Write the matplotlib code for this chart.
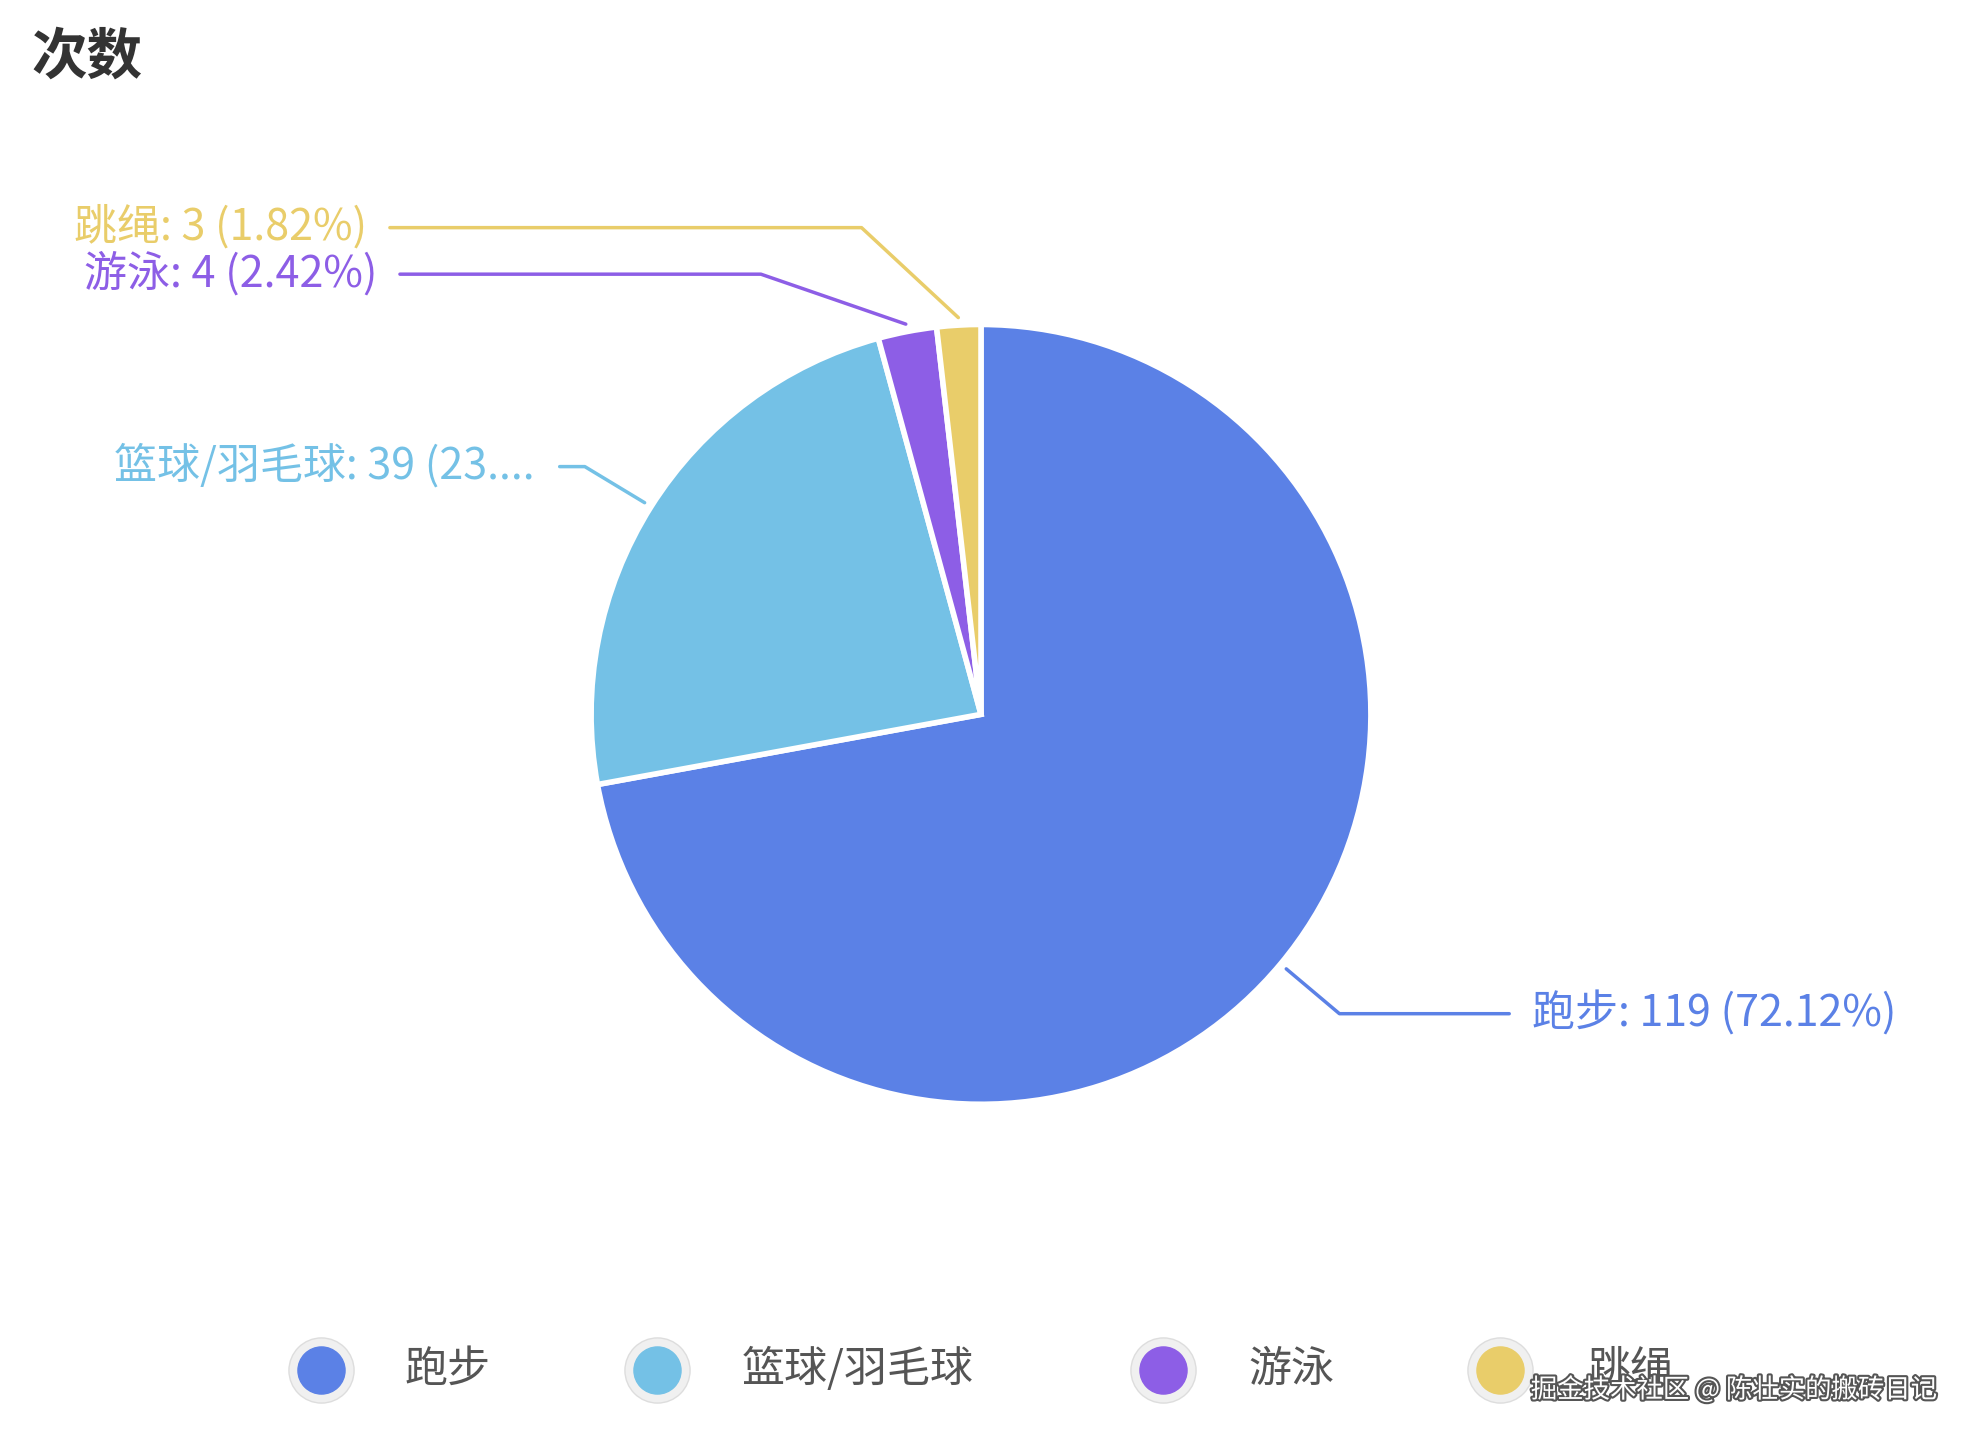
import numpy as np
import matplotlib
matplotlib.use("Agg")
import matplotlib.pyplot as plt
import matplotlib.patheffects as pe

plt.rcParams["font.family"] = ["Noto Sans CJK SC", "DejaVu Sans"]

categories = ["跑步", "篮球/羽毛球", "游泳", "跳绳"]
counts = [119, 39, 4, 3]
label_texts = ["跑步: 119 (72.12%)", "篮球/羽毛球: 39 (23....", "游泳: 4 (2.42%)", "跳绳: 3 (1.82%)"]
colors = ["#5b81e6", "#74c1e6", "#8d5ee6", "#e9cd6a"]

# layout in a pixel-like coordinate frame (x right, y down)
W, H = 1560, 1135
cx, cy, R = 780, 567, 310
label_pos = [(1218, 805, "left"), (425, 370, "right"), (300, 217, "right"), (292, 180, "right")]
elbows = [(1065, 805, 1200), (465, 370, 445), (605, 217, 318), (685, 180, 310)]

fig = plt.figure(figsize=(19.62, 14.30), dpi=100)
ax = fig.add_axes([0, 0, 1, 1])

wedges, _ = ax.pie(counts, colors=colors, startangle=-90, counterclock=True,
                   center=(cx, cy), radius=R, frame=True,
                   wedgeprops=dict(edgecolor="white", linewidth=4))
ax.set_xlim(0, W)
ax.set_ylim(H, 0)
ax.set_aspect("equal")
ax.set_axis_off()

for w, txt, col, (lx, ly, ha), (ex, ey, hx) in zip(wedges, label_texts, colors, label_pos, elbows):
    mid = np.deg2rad((w.theta1 + w.theta2) / 2)
    sx = cx + (R + 6) * np.cos(mid)
    sy = cy + (R + 6) * np.sin(mid)
    ax.plot([sx, ex, hx], [sy, ey, ey], color=col, lw=2.5, solid_capstyle="round")
    ax.text(lx, ly, txt, color=col, fontsize=31, ha=ha, va="center")

ax.text(25, 45, "次数", fontsize=40, fontweight="bold", color="#333333", va="center")

leg_marker_x = [255, 522, 925, 1193]
leg_text_x = [322, 590, 993, 1262]
for mx, tx, name, col in zip(leg_marker_x, leg_text_x, categories, colors):
    ax.scatter([mx], [1088], s=2200, color="#f0f0f0", edgecolors="#dddddd", linewidths=1, zorder=3)
    ax.scatter([mx], [1088], s=1150, color=col, zorder=4)
    ax.text(tx, 1088, name, fontsize=31, color="#555555", va="center")

ax.text(1540, 1104, "掘金技术社区 @ 陈壮实的搬砖日记", fontsize=19, color="white", ha="right", va="center",
        path_effects=[pe.withStroke(linewidth=3, foreground="#555555")], zorder=5)

fig.savefig("out.png", dpi=100)
